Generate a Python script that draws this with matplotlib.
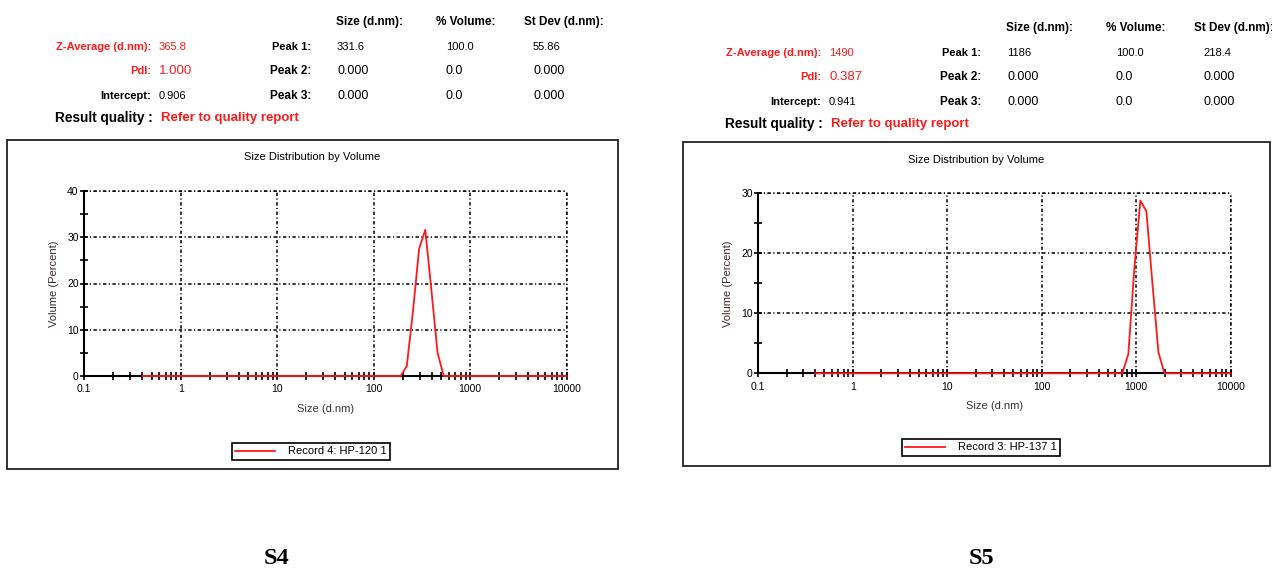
import matplotlib
matplotlib.use("Agg")
import matplotlib.pyplot as plt
from matplotlib.patches import Rectangle

plt.rcParams["font.family"] = ["Liberation Sans", "DejaVu Sans"]

W, H = 1272, 572

s4_size = [0.4, 190.1, 220.2, 255.0, 295.3, 342.0, 396.1, 458.7, 531.2, 10000]
s4_volume = [0, 0, 2.2, 14.0, 27.5, 31.6, 18.5, 5.0, 0, 0]

s5_size = [0.4, 712.4, 825.0, 955.4, 1106, 1281, 1484, 1718, 1990, 10000]
s5_volume = [0, 0, 3.2, 17.5, 28.8, 27.0, 15.0, 3.5, 0, 0]

s4_summary = {"zavg": "365.8", "pdi": "1.000", "intercept": "0.906"}
s5_summary = {"zavg": "1490", "pdi": "0.387", "intercept": "0.941"}

s4_peaks = [["331.6", "100.0", "55.86"], ["0.000", "0.0", "0.000"], ["0.000", "0.0", "0.000"]]
s5_peaks = [["1186", "100.0", "218.4"], ["0.000", "0.0", "0.000"], ["0.000", "0.0", "0.000"]]

s4_record = "Record 4: HP-120 1"
s5_record = "Record 3: HP-137 1"
panel_labels = ["S4", "S5"]


def fx(x):
    return x / W


def fy(y):
    return 1 - y / H


def header(fig, x0, y0, summary, peaks):
    # x0 = right edge of the left labels, y0 = row of "Size (d.nm):"
    red = "#ff1a1a"
    cols = [x0 + 186, x0 + 295, x0 + 382]
    fig.text(fx(cols[0] - 1), fy(y0), "Size (d.nm):", fontsize=8.5, weight="bold", va="center")
    fig.text(fx(cols[1] - 10), fy(y0), "% Volume:", fontsize=8.5, weight="bold", va="center")
    fig.text(fx(cols[2] - 9), fy(y0), "St Dev (d.nm):", fontsize=8.5, weight="bold", va="center")

    rows = [y0 + 25, y0 + 49, y0 + 74]
    fig.text(fx(x0), fy(rows[0]), "Z-Average (d.nm):", fontsize=8, weight="bold",
             color=red, ha="right", va="center")
    fig.text(fx(x0 + 8), fy(rows[0]), summary["zavg"], fontsize=8, color=red, va="center")
    fig.text(fx(x0), fy(rows[1]), "PdI:", fontsize=8, weight="bold", color=red,
             ha="right", va="center")
    fig.text(fx(x0 + 8), fy(rows[1]), summary["pdi"], fontsize=9.5, color=red, va="center")
    fig.text(fx(x0), fy(rows[2]), "Intercept:", fontsize=8, weight="bold",
             ha="right", va="center")
    fig.text(fx(x0 + 8), fy(rows[2]), summary["intercept"], fontsize=8, va="center")
    fig.text(fx(x0 + 2), fy(rows[2] + 22), "Result quality :", fontsize=9.8, weight="bold",
             ha="right", va="center")
    fig.text(fx(x0 + 10), fy(rows[2] + 22), "Refer to quality report", fontsize=9.5,
             weight="bold", color=red, va="center")

    for i, (row, vals) in enumerate(zip(rows, peaks)):
        fig.text(fx(cols[0] - 26), fy(row), f"Peak {i + 1}:", fontsize=8.5 if i else 8,
                 weight="bold", ha="right", va="center")
        fs = 8 if i == 0 else 9
        fig.text(fx(cols[0]), fy(row), vals[0], fontsize=fs, va="center")
        fig.text(fx(cols[1]), fy(row), vals[1], fontsize=fs, va="center")
        fig.text(fx(cols[2]), fy(row), vals[2], fontsize=fs, va="center")


def dist_plot(fig, box, ax_px, sizes, volumes, ymax, record, leg_center, title_y):
    bx0, by0, bx1, by1 = box
    fig.patches.append(Rectangle((fx(bx0), fy(by1)), fx(bx1 - bx0), (by1 - by0) / H,
                                 transform=fig.transFigure, fill=False,
                                 edgecolor="#222222", linewidth=1.3))
    x0, y0, x1, y1 = ax_px
    ax = fig.add_axes([fx(x0), fy(y1), fx(x1 - x0), (y1 - y0) / H])
    ax.plot(sizes, volumes, color="#ff1a1a", linewidth=1.3, label=record,
            clip_on=False, zorder=5)
    ax.set_xscale("log")
    ax.set_xlim(0.1, 10000)
    ax.set_ylim(0, ymax)
    ax.set_xticks([0.1, 1, 10, 100, 1000, 10000])
    ax.set_xticklabels(["0.1", "1", "10", "100", "1000", "10000"])
    ax.set_yticks(range(0, ymax + 1, 10))
    ax.set_yticks(range(5, ymax, 10), minor=True)
    ax.tick_params(which="both", direction="inout", length=6, width=1.2,
                   labelsize=7.5, colors="black", pad=3)
    ax.tick_params(axis="y", pad=1)
    for s in ["top", "right"]:
        ax.spines[s].set_visible(False)
    for s in ["left", "bottom"]:
        ax.spines[s].set_linewidth(1.5)
    grid_style = dict(color="black", linewidth=1.1, linestyle=(0, (2.2, 1.6, 0.8, 1.6)))
    ax.grid(True, which="major", **grid_style)
    ax.axhline(ymax, **grid_style, clip_on=False)
    ax.axvline(10000, **grid_style, clip_on=False)
    ax.set_axisbelow(True)

    ax.set_xlabel("Size (d.nm)", fontsize=8, labelpad=7, color="#333333")
    ax.set_ylabel("Volume (Percent)", fontsize=8, labelpad=6, color="#3a2a2a")
    fig.text(fx((bx0 + bx1) / 2), fy(title_y), "Size Distribution by Volume",
             fontsize=8, ha="center", va="center")
    ax.legend(loc="center", bbox_to_anchor=(fx(leg_center[0]), fy(leg_center[1])),
              bbox_transform=fig.transFigure, fontsize=8, frameon=True,
              fancybox=False, edgecolor="black", framealpha=1, handlelength=3.6,
              borderpad=0.3, handletextpad=1.2, borderaxespad=0)
    ax.get_legend().get_frame().set_linewidth(1.2)
    return ax


def main():
    fig = plt.figure(figsize=(W / 100, H / 100), dpi=100)

    header(fig, 151, 22, s4_summary, s4_peaks)
    header(fig, 821, 28, s5_summary, s5_peaks)

    dist_plot(fig, (7, 140, 618, 469), (84.3, 191, 566.7, 376),
              s4_size, s4_volume, 40, s4_record, (311, 451.5), 157)
    dist_plot(fig, (683, 142, 1270, 466), (758.3, 193.3, 1230.7, 373.3),
              s5_size, s5_volume, 30, s5_record, (981, 447.5), 160)

    fig.text(fx(277), fy(558), panel_labels[0], fontsize=17.5, weight="bold",
             family="Liberation Serif", ha="center", va="center")
    fig.text(fx(982), fy(558), panel_labels[1], fontsize=17.5, weight="bold",
             family="Liberation Serif", ha="center", va="center")

    fig.savefig("out.png", dpi=100)
    plt.close(fig)


if __name__ == "__main__":
    main()
